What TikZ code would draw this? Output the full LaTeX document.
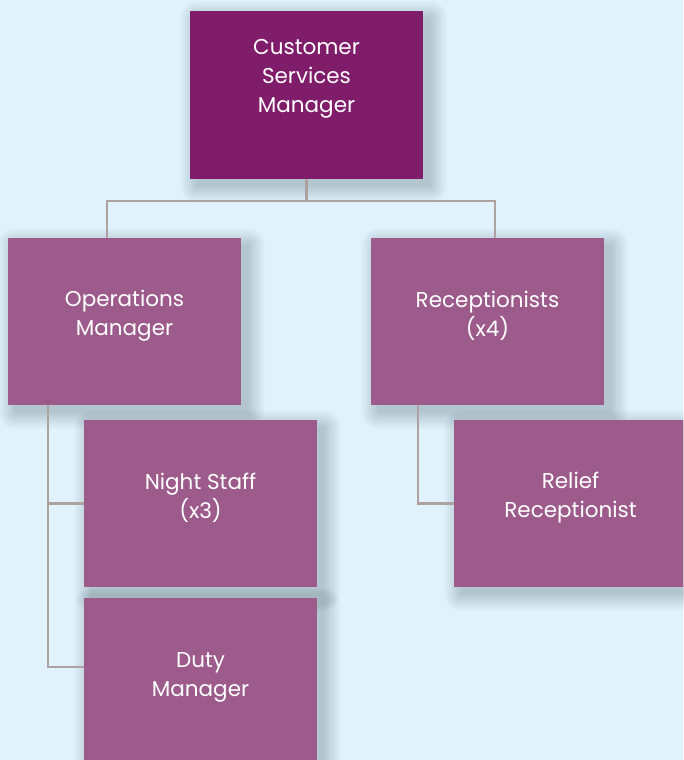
\documentclass[tikz,border=0pt]{standalone}
\usepackage{fontspec}
\setmainfont{Poppins}

\definecolor{pagebg}{HTML}{E0F2FB}
\definecolor{headfill}{HTML}{7F1D6B}
\definecolor{unitfill}{HTML}{9C5B8B}
\definecolor{linkline}{HTML}{AFA1A0}

\pgfdeclarelayer{shade}
\pgfdeclarelayer{backdrop}
\pgfsetlayers{backdrop,shade,main}

\tikzset{
  unitbox/.style={rectangle, fill=unitfill, minimum width=233pt, minimum height=167pt,
    inner sep=0pt},
  headbox/.style={unitbox, fill=headfill, minimum height=168pt},
  boxtext/.style={text=white, align=center, font=\fontsize{21.5pt}{29pt}\selectfont},
  link/.style={draw=linkline, line width=2.9pt},
}

% soft drop shadow: stacked translucent rectangles, offset down and right
\newcommand\dropshade[1]{%
  \begin{pgfonlayer}{shade}
    \foreach \r in {0,1.2,...,16.8} {
      \fill[black, opacity=0.013, rounded corners=\r pt]
        ([xshift=7pt-\r pt, yshift=-7pt+\r pt]#1.north west)
        rectangle ([xshift=7pt+\r pt, yshift=-7pt-\r pt]#1.south east);
    }
  \end{pgfonlayer}}

\begin{document}
\begin{tikzpicture}[x=1pt, y=-1pt]
  \begin{pgfonlayer}{backdrop}
    \fill[pagebg] (0,0) rectangle (683,760);
  \end{pgfonlayer}
  \useasboundingbox (0,0) rectangle (683,760);
  \clip (0,0) rectangle (683,760);

  % boxes
  \node[headbox] (csm)    at (306.5,95)    {};
  \node[unitbox] (ops)    at (124.5,321.5) {};
  \node[unitbox] (rec)    at (487.5,321.5) {};
  \node[unitbox] (night)  at (200.5,503.5) {};
  \node[unitbox] (duty)   at (200.5,681.5) {};
  \node[unitbox] (relief) at (570.5,503.5) {};

  \dropshade{csm}
  \dropshade{ops}
  \dropshade{rec}
  \dropshade{night}
  \dropshade{duty}
  \dropshade{relief}

  % labels
  \node[boxtext] (csmt)    at ([yshift=16pt]csm.center)   {Customer\\Services\\Manager};
  \node[boxtext] (opst)    at ([yshift=5.5pt]ops.center)  {Operations\\Manager};
  \node[boxtext] (rect)    at ([yshift=5.5pt]rec.center)  {Receptionists\\(x4)};
  \node[boxtext] (nightt)  at ([yshift=6pt]night.center)  {Night Staff\\(x3)};
  \node[boxtext] (dutyt)   at ([yshift=4pt]duty.center)   {Duty\\Manager};
  \node[boxtext] (relieft) at ([yshift=6pt]relief.center) {Relief\\Receptionist};

  % connectors
  \coordinate (bus) at (306.5,201);
  \draw[link] (csm.south) -- (bus);
  \draw[link] ([xshift=-17.5pt]ops.north) |- (bus) -| ([xshift=7.5pt]rec.north);
  \draw[link] ([xshift=-76.5pt]ops.south) |- (night.west);
  \draw[link] ([xshift=-76.5pt]ops.south) |- ([yshift=14.5pt]duty.west);
  \draw[link] ([xshift=-69.5pt]rec.south) |- (relief.west);
\end{tikzpicture}
\end{document}
